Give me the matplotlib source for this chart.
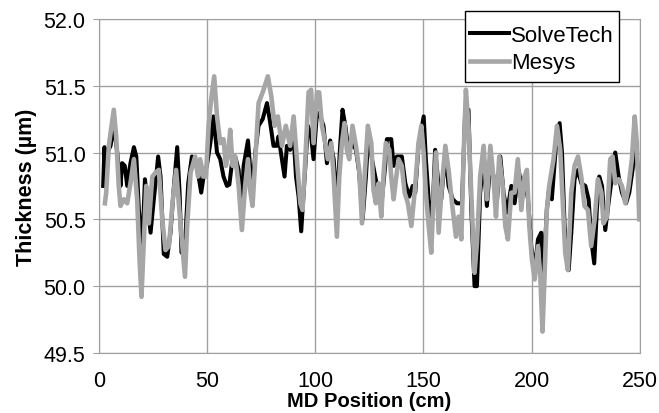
import matplotlib.pyplot as plt
from matplotlib.patches import Rectangle

plt.rcParams['font.family'] = ['Liberation Sans', 'DejaVu Sans']

# SolveTech 曲线（读图得到的拐点）
solve_x = [2.0, 2.6, 3.1, 3.9, 5.4, 6.9, 8.5, 10.0, 10.8, 12.0, 13.1, 14.6, 16.2, 17.3, 18.5, 20.0,
           21.3, 22.3, 23.9, 25.4, 26.5, 27.4, 28.5, 30.0, 31.6, 33.1, 34.7, 36.2, 37.3, 38.2, 39.8,
           41.3, 43.0, 44.5, 46.1, 47.3, 48.4, 49.9, 51.5, 53.0, 54.6, 56.1, 57.6, 59.2, 60.3, 61.5,
           63.0, 64.6, 65.8, 66.9, 68.9, 70.1, 71.2, 72.3, 73.8, 75.7, 77.7, 79.2, 80.7, 82.2, 83.0,
           84.6, 85.8, 86.9, 88.4, 90.0, 91.1, 92.3, 93.5, 95.1, 96.6, 98.1, 99.2, 100.8, 102.3, 103.8,
           105.4, 106.9, 108.5, 110.0, 111.5, 112.6, 113.9, 115.4, 117.2, 118.8, 120.3, 121.9, 123.4,
           124.6, 126.2, 127.7, 129.3, 130.8, 132.3, 133.1, 135.1, 136.2, 137.7, 140.0, 141.6, 143.4,
           145.0, 146.2, 147.7, 150.1, 151.1, 152.4, 153.9, 155.4, 157.0, 158.2, 160.1, 161.6, 163.5,
           165.5, 167.8, 169.3, 170.8, 172.1, 173.6, 174.7, 176.2, 177.8, 179.3, 180.9, 182.4, 184.0,
           185.5, 187.0, 188.6, 190.6, 192.1, 194.0, 195.2, 196.7, 198.3, 199.8, 201.4, 202.9, 204.4,
           205.5, 207.0, 208.0, 209.3, 211.2, 212.9, 214.0, 215.2, 217.1, 218.3, 219.8, 221.4, 222.9,
           224.8, 226.3, 227.5, 228.9, 230.1, 231.2, 232.5, 234.0, 235.5, 237.1, 238.6, 240.2, 241.7,
           243.6, 245.1, 246.6, 247.9, 249.1, 250.0]
solve_y = [50.75, 51.04, 50.82, 51.0, 51.05, 51.2, 51.0, 50.75, 50.92, 50.9, 50.75, 50.92, 51.04, 50.97,
           50.57, 50.27, 50.8, 50.65, 50.4, 50.65, 50.82, 50.97, 50.82, 50.24, 50.22, 50.4, 50.75, 51.04,
           50.7, 50.25, 50.3, 50.77, 50.97, 50.95, 50.82, 50.7, 50.82, 50.9, 51.07, 51.27, 51.0, 50.95,
           50.82, 50.75, 50.76, 50.92, 50.97, 50.87, 50.55, 50.9, 51.09, 50.85, 50.77, 51.0, 51.2, 51.25,
           51.37, 51.22, 51.05, 51.05, 51.12, 50.95, 50.82, 51.05, 51.02, 51.12, 50.82, 50.67, 50.41,
           50.82, 51.2, 51.12, 50.95, 51.3, 51.27, 51.2, 50.92, 51.09, 50.95, 50.6, 51.05, 51.32, 51.2,
           51.0, 51.07, 51.02, 50.85, 50.5, 50.82, 51.15, 50.95, 50.82, 50.7, 50.65, 50.9, 51.1, 51.1,
           50.9, 50.97, 50.97, 50.77, 50.67, 50.75, 50.7, 51.05, 51.27, 50.95, 50.65, 50.45, 51.02,
           50.75, 50.65, 51.0, 50.75, 50.65, 50.62, 50.62, 51.32, 51.32, 50.57, 50.0, 50.0, 50.7, 50.95,
           50.6, 50.92, 50.82, 50.65, 50.97, 50.7, 50.55, 50.75, 50.62, 50.87, 50.75, 50.82, 50.65,
           50.3, 50.12, 50.35, 50.4, 50.1, 50.57, 50.72, 50.65, 51.05, 51.22, 51.0, 50.45, 50.12, 50.4,
           50.8, 50.87, 50.77, 50.75, 50.65, 50.35, 50.17, 50.57, 50.82, 50.75, 50.42, 50.62, 50.82,
           51.0, 50.82, 50.7, 50.62, 50.7, 50.87, 51.07, 50.87, 50.75]

# Mesys 曲线
mesys_x = [2.8, 3.4, 4.6, 6.9, 8.0, 9.2, 10.0, 11.6, 13.1, 14.6, 16.2, 17.7, 18.8, 19.7, 20.8, 21.9,
           23.1, 24.7, 26.2, 27.7, 29.3, 30.8, 32.4, 34.2, 35.7, 37.8, 39.8, 40.8, 42.4, 44.5, 45.8,
           46.8, 48.4, 49.5, 50.7, 51.9, 53.3, 54.6, 56.1, 57.6, 58.7, 59.6, 60.7, 61.8, 63.0, 64.6,
           66.1, 67.6, 68.9, 69.9, 71.0, 72.3, 73.8, 75.7, 78.1, 79.7, 81.2, 82.7, 84.6, 86.4, 88.4,
           90.0, 91.5, 93.1, 94.1, 95.4, 96.9, 98.1, 99.2, 100.8, 101.8, 103.1, 104.6, 105.8, 107.4,
           108.5, 110.0, 111.1, 112.3, 113.5, 114.6, 115.7, 117.2, 118.8, 120.3, 121.6, 122.8, 124.3,
           125.9, 126.9, 128.0, 129.3, 130.5, 131.6, 132.6, 134.2, 135.1, 136.2, 137.3, 138.5, 140.0,
           141.3, 142.8, 144.4, 145.9, 147.7, 149.0, 150.1, 151.1, 152.4, 153.6, 154.7, 155.8, 157.0,
           158.5, 160.1, 161.6, 163.2, 165.0, 166.2, 167.5, 168.5, 169.6, 170.8, 172.4, 173.6, 174.7,
           176.2, 177.8, 179.3, 180.9, 182.4, 183.5, 185.0, 186.6, 187.8, 189.0, 190.6, 192.1, 193.6,
           195.2, 196.7, 197.8, 198.9, 200.1, 201.4, 202.9, 204.0, 205.0, 206.0, 207.0, 208.1, 210.1,
           211.7, 213.2, 214.3, 215.5, 216.7, 218.3, 219.8, 221.4, 222.9, 224.4, 226.0, 227.5, 229.1,
           230.6, 232.2, 233.2, 234.8, 236.3, 237.4, 238.6, 240.2, 241.7, 243.3, 244.8, 246.3, 247.6,
           248.6, 249.7]
mesys_y = [50.62, 50.7, 51.05, 51.32, 51.12, 50.75, 50.6, 50.65, 50.62, 50.77, 50.95, 50.65, 50.2, 49.92,
           50.35, 50.75, 50.47, 50.82, 50.85, 50.87, 50.5, 50.27, 50.3, 50.65, 50.87, 50.45, 50.07, 50.45,
           50.85, 50.97, 50.82, 50.95, 50.82, 50.82, 51.2, 51.4, 51.57, 51.27, 51.07, 51.1, 50.9, 50.97,
           51.17, 50.9, 50.97, 50.75, 50.42, 50.75, 50.95, 50.72, 50.6, 50.95, 51.37, 51.45, 51.57,
           51.42, 51.2, 51.27, 51.05, 51.2, 51.05, 51.27, 50.95, 50.62, 50.57, 50.95, 51.45, 51.47,
           51.07, 51.45, 51.45, 51.2, 51.07, 50.95, 51.07, 50.82, 50.37, 50.82, 51.07, 51.22, 51.02,
           50.95, 51.2, 51.05, 50.87, 50.47, 50.82, 51.2, 51.07, 50.72, 50.62, 50.77, 50.52, 50.85,
           51.07, 51.02, 50.82, 50.65, 50.8, 50.95, 50.9, 50.7, 50.62, 50.45, 50.7, 51.07, 51.2, 51.0,
           50.7, 50.45, 50.25, 50.7, 51.0, 50.4, 50.75, 51.05, 50.87, 50.62, 50.37, 50.52, 50.35,
           50.95, 51.47, 51.2, 50.57, 50.1, 50.32, 50.82, 51.05, 50.65, 51.05, 50.8, 50.52, 50.97,
           50.75, 50.45, 50.35, 50.7, 50.7, 50.95, 50.57, 50.82, 50.87, 50.45, 50.2, 50.05, 50.3,
           50.07, 49.66, 50.1, 50.57, 50.75, 50.95, 51.2, 51.02, 50.65, 50.25, 50.12, 50.7, 50.9,
           50.97, 50.82, 50.6, 50.57, 50.3, 50.5, 50.8, 50.7, 50.47, 50.52, 50.95, 50.97, 50.77, 50.8,
           50.75, 50.62, 50.75, 50.95, 51.27, 51.07, 50.5]

x_ticks = [0, 50, 100, 150, 200, 250]
y_ticks = [49.5, 50.0, 50.5, 51.0, 51.5, 52.0]

fig = plt.figure(figsize=(6.59, 4.14), dpi=100)
ax = fig.add_axes([0.150, 0.145, 0.821, 0.807])

ax.plot(solve_x, solve_y, color="black", lw=2.9, solid_joinstyle="round", label="SolveTech")
ax.plot(mesys_x, mesys_y, color="#A6A6A6", lw=3.3, solid_joinstyle="round", label="Mesys")

ax.set_xlim(0, 250)
ax.set_ylim(49.5, 52.0)
ax.set_xticks(x_ticks)
ax.set_yticks(y_ticks)
ax.set_yticklabels([f"{v:.1f}" for v in y_ticks])
ax.grid(True, color="#A0A0A0", lw=1)
ax.set_axisbelow(True)
for s in ax.spines.values():
    s.set_color("#A0A0A0")
ax.tick_params(axis="y", labelsize=15.5, color="#A0A0A0", length=4.5, pad=5)
ax.tick_params(axis="x", labelsize=15.5, length=0, pad=12)

ax.set_xlabel("MD Position (cm)", fontsize=14.5, fontweight="bold", labelpad=0)
ax.set_ylabel("Thickness (µm)", fontsize=15.5, fontweight="bold", labelpad=5)

# 图例：无框图例 + 手动画的黑色方框（框一半在绘图区外）
fig.legend(loc="center", bbox_to_anchor=(542 / 659, 1 - 50 / 414), fontsize=16,
           frameon=False, handlelength=1.75, handletextpad=0.08,
           labelspacing=0.3, borderpad=0)
fig.patches.append(Rectangle((465 / 659, 1 - 83 / 414), 154 / 659, 71 / 414,
                             transform=fig.transFigure, fill=True, facecolor="white",
                             edgecolor="black", lw=1, zorder=0.5))

plt.savefig("out.png", dpi=100)
plt.close()
